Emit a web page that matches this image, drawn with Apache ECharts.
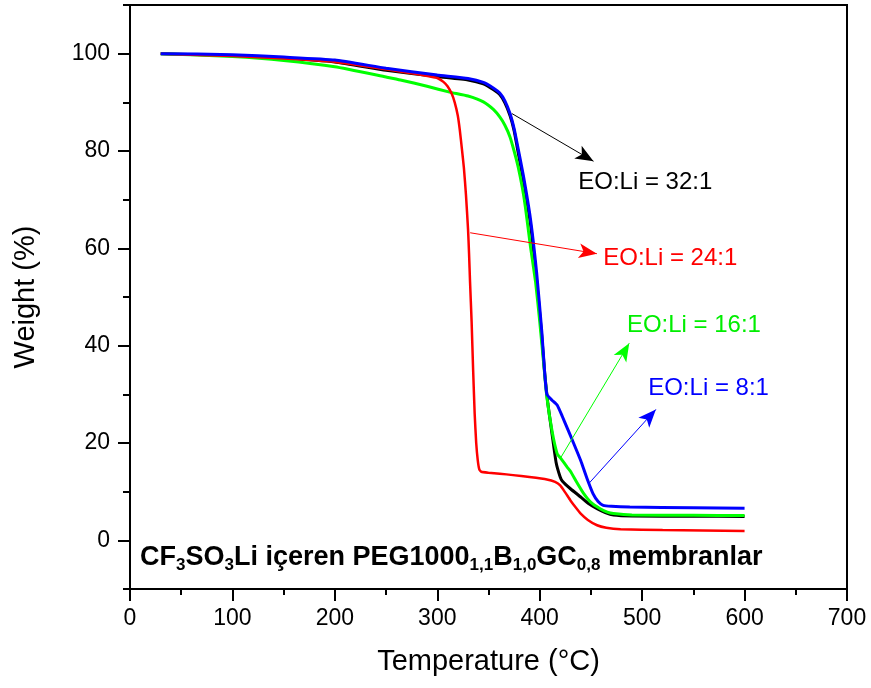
<!DOCTYPE html>
<html>
<head>
<meta charset="utf-8">
<script src="https://cdn.jsdelivr.net/npm/echarts@6/dist/echarts.min.js"></script>
<style>html,body{margin:0;padding:0;background:#fff}#c{width:871px;height:688px}</style>
</head>
<body>
<div id="c"></div>
<script>
// Temperature (°C) / Weight (%) pairs
const black32 = [[30,100],[100,99.6],[150,99.1],[200,98.3],[250,96.6],[300,95.3],[330,94.6],[345,93.8],[355,92.6],[361,91.6],[366,89.9],[371,87.3],[375,84.2],[378,80.8],[384,74],[391,65],[397,53.4],[402,42],[405,34],[408,28],[412,21.9],[416,16],[420,13],[422,12.2],[430,10.6],[440,8.9],[448,7.5],[456,6.5],[464,5.7],[472,5.2],[490,5.0],[550,4.95],[600,4.9]];
const red24 = [[30,100],[100,99.5],[150,99.0],[200,98.3],[250,96.8],[280,95.8],[293,95.3],[300,95],[306,94.2],[310,93.3],[314,91.8],[317,90],[320,87.3],[322,84.3],[324,80.5],[326,76.5],[328,71],[330,64],[331,59],[332,53],[333.5,45],[335,35],[336.5,26],[338,20],[339.5,16.5],[341,14.6],[343,14.1],[350,13.9],[361,13.7],[374,13.4],[390,13],[407,12.5],[415,12],[420,11.3],[425,9.8],[430,8.2],[435,6.8],[440,5.5],[447,4.2],[456,3.1],[465,2.6],[479,2.3],[520,2.1],[600,1.9]];
const green16 = [[30,100],[100,99.4],[150,98.6],[200,97.3],[250,95.2],[264,94.6],[290,93.3],[312,92.1],[330,91.3],[345,90.1],[355,88.5],[361,87],[366,85.3],[371,82.9],[375,80],[379,76.7],[383,72.5],[386,68.5],[391,60.3],[396,53],[400,45],[404,36],[407,29.4],[412,22.5],[417,17.8],[420,17],[427,15],[430,14.2],[436,12],[443,9.6],[450,7.8],[459,6.5],[466,5.8],[472,5.5],[490,5.2],[550,5.15],[600,5.1]];
const blue8 = [[30,100],[100,99.8],[150,99.3],[200,98.7],[250,97],[300,95.6],[330,94.9],[345,94.1],[355,92.9],[361,91.9],[366,90.3],[371,87.7],[375,84.6],[378,81.5],[384,75],[391,66],[397,55],[402,43],[405,34],[407,30],[412,28.8],[417,27.8],[422,25.5],[427,23],[433,20],[440,16.4],[446,12.8],[452,9.6],[457,8.0],[462,7.2],[470,7.0],[488,6.85],[550,6.7],[600,6.6]];

const xTicks = [0,100,200,300,400,500,600,700];
const yTicks = [0,20,40,60,80,100];
const yMinorTicks = [-10,10,30,50,70,90,110];

// annotation arrows: [from, to] in data units
const arrows = {
  black: [[372.8,87.7],[452.5,77.9]],
  red:   [[332.1,63.2],[455.8,58.9]],
  green: [[420.0,16.8],[487.4,40.5]],
  blue:  [[447.6,11.6],[513.4,26.9]]
};
const labels = [
  {text:'EO:Li = 32:1', color:'#000000', at:[437.6,73.5]},
  {text:'EO:Li = 24:1', color:'#ff0000', at:[462.0,57.9]},
  {text:'EO:Li = 16:1', color:'#00ee00', at:[485.1,44.2]},
  {text:'EO:Li = 8:1',  color:'#0000ff', at:[505.9,31.3]}
];
const noteAt = [9.8,-3.6];

const FONT = '"Liberation Sans", Arial, sans-serif';
const chart = echarts.init(document.getElementById('c'), null, {renderer:'canvas'});

function arrowLine(pts, color){
  return {
    silent:true, animation:false,
    symbol:['none','arrow'], symbolSize:[11,18],
    lineStyle:{color:color,width:1,type:'solid'},
    label:{show:false},
    emphasis:{disabled:true},
    data:[[{coord:pts[0]},{coord:pts[1]}]]
  };
}
function line(name, data, color, width, arr){
  return {
    name:name, type:'line', data:data, showSymbol:false, symbol:'none',
    smooth:0.15, lineStyle:{color:color,width:width}, itemStyle:{color:color},
    animation:false, markLine: arrowLine(arr, color), z:2
  };
}

const option = {
  backgroundColor:'#fff',
  grid:{left:130, right:24, top:5, bottom:99, show:true, borderColor:'#000', borderWidth:2, containLabel:false},
  xAxis:[{
    type:'value', min:0, max:700, interval:100,
    name:'Temperature (°C)', nameLocation:'middle', nameGap:58,
    nameTextStyle:{fontFamily:FONT, fontSize:29, color:'#000'},
    axisLine:{show:true, onZero:false, lineStyle:{color:'#000', width:2}},
    axisTick:{show:true, inside:false, length:12, lineStyle:{color:'#000', width:2}},
    minorTick:{show:true, splitNumber:2, length:6, lineStyle:{color:'#000', width:2}},
    axisLabel:{fontFamily:FONT, fontSize:23, color:'#000', margin:18, customValues:xTicks},
    splitLine:{show:false}
  }],
  yAxis:[{
    type:'value', min:-10, max:110, interval:10,
    name:'Weight (%)', nameLocation:'middle', nameGap:90,
    nameTextStyle:{fontFamily:FONT, fontSize:29, color:'#000'},
    axisLine:{show:true, onZero:false, lineStyle:{color:'#000', width:2}},
    axisTick:{show:true, inside:false, length:12, lineStyle:{color:'#000', width:2}, customValues:yTicks},
    axisLabel:{fontFamily:FONT, fontSize:23, color:'#000', margin:20, customValues:yTicks},
    splitLine:{show:false}
  },{
    type:'value', min:-10, max:110, interval:10, position:'left',
    axisLine:{show:false},
    axisTick:{show:true, inside:false, length:7, lineStyle:{color:'#000', width:2}, customValues:yMinorTicks},
    axisLabel:{show:false},
    splitLine:{show:false}
  }],
  series:[
    line('EO:Li = 32:1', black32, '#000000', 3, arrows.black),
    line('EO:Li = 16:1', green16, '#00ff00', 3, arrows.green),
    line('EO:Li = 24:1', red24, '#ff0000', 2.5, arrows.red),
    line('EO:Li = 8:1', blue8, '#0000ff', 3, arrows.blue)
  ]
};
chart.setOption(option);

const graphics = labels.map(l => {
  const p = chart.convertToPixel({gridIndex:0}, l.at);
  return {type:'text', x:p[0], y:p[1], silent:true,
    style:{text:l.text, fill:l.color, font:'24px '+FONT, textAlign:'left', textVerticalAlign:'middle'}};
});
const np = chart.convertToPixel({gridIndex:0}, noteAt);
graphics.push({
  type:'text', x:np[0], y:np[1], silent:true,
  style:{
    text:'{b|CF}{s|3}{b|SO}{s|3}{b|Li içeren PEG1000}{s|1,1}{b|B}{s|1,0}{b|GC}{s|0,8}{b| membranlar}',
    textAlign:'left', textVerticalAlign:'middle',
    rich:{
      b:{fontFamily:FONT, fontSize:27, fontWeight:'bold', fill:'#000', lineHeight:32, verticalAlign:'middle'},
      s:{fontFamily:FONT, fontSize:17, fontWeight:'bold', fill:'#000', lineHeight:4, verticalAlign:'bottom'}
    }
  }
});
chart.setOption({graphic:graphics});
</script>
</body>
</html>
